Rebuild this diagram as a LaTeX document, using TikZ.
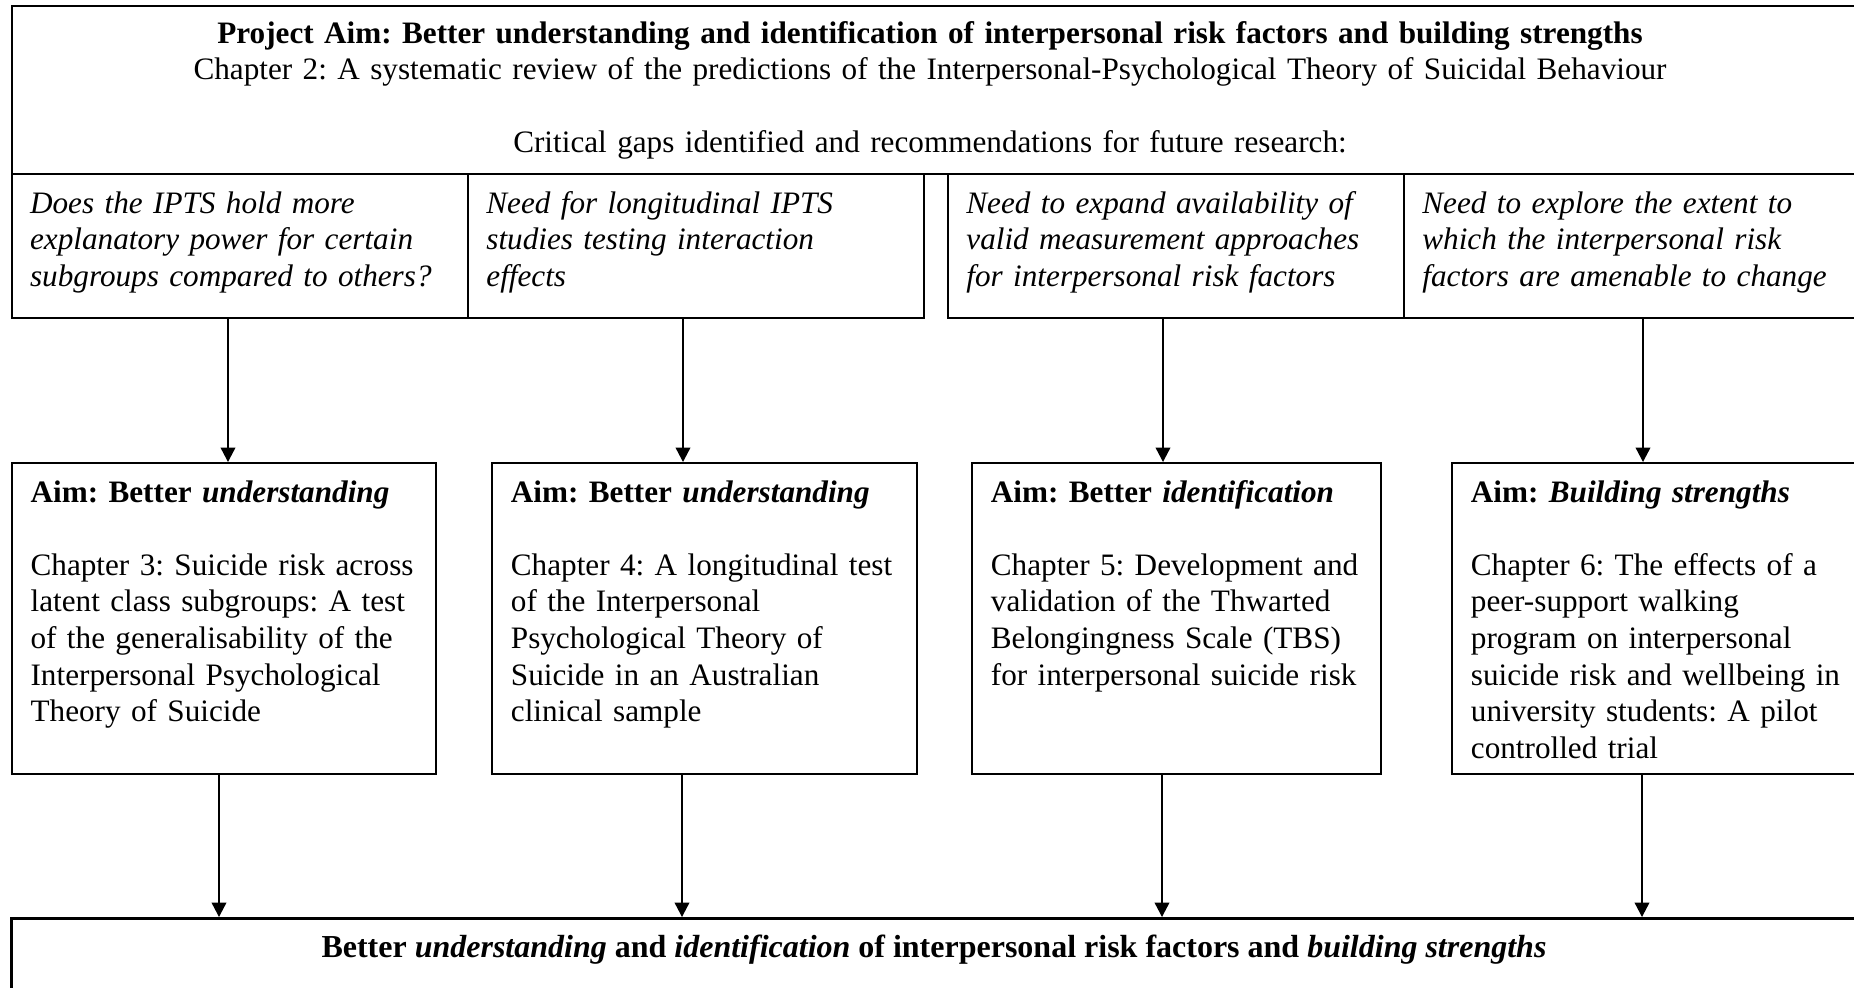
\documentclass[tikz,border=0pt]{standalone}
\usepackage{fontspec}
\setmainfont{Liberation Serif}
\usetikzlibrary{arrows.meta,calc}
\newcommand\diagfont{\fontsize{15.6pt}{18.3pt}\selectfont}
\frenchspacing
\begin{document}
\begin{tikzpicture}[x=0.5pt,y=-0.5pt,
  box/.style={draw,line width=1pt,rectangle,inner sep=0pt,anchor=north west},
  txt/.style={anchor=north west,inner sep=0pt,align=left,text width=236pt,font=\diagfont},
  arr/.style={line width=0.85pt,-{Triangle[length=7.2pt,width=7.3pt]}}]
\useasboundingbox (0,0) rectangle (1854,987);
\clip (0,0) rectangle (1854,987);
% boxes
\node[box,minimum width=940pt,minimum height=84pt] (top) at (10.7,5) {};
\node[box,minimum width=228.15pt,minimum height=72pt] (g1) at (10.7,173) {};
\node[box,minimum width=228pt,minimum height=72pt] (g2) at (467,173) {};
\node[box,minimum width=228pt,minimum height=72pt] (g3) at (947,173) {};
\node[box,minimum width=245pt,minimum height=72pt] (g4) at (1403,173) {};
\node[box,minimum width=212.15pt,minimum height=155.5pt] (c1) at (10.7,462) {};
\node[box,minimum width=212.5pt,minimum height=155.5pt] (c2) at (491,462) {};
\node[box,minimum width=204.5pt,minimum height=155.5pt] (c3) at (971,462) {};
\node[box,minimum width=225pt,minimum height=155.5pt] (c4) at (1451,462) {};
\node[box,line width=1.4pt,minimum width=960pt,minimum height=60pt] (bot) at (10,917) {};
% texts
\node[txt,anchor=north,align=center,text width=920pt] (ttop) at (930,17)
  {\strut\textbf{Project Aim: Better understanding and identification of interpersonal risk factors and building strengths}\\
   Chapter 2: A systematic review of the predictions of the Interpersonal-Psychological Theory of Suicidal Behaviour\\[18.3pt]
   Critical gaps identified and recommendations for future research:};
\node[txt,font=\diagfont\itshape] (tg1) at ([shift={(19,14)}]g1.north west)
  {\strut Does the IPTS hold more\\ explanatory power for certain\\ subgroups compared to others?};
\node[txt,font=\diagfont\itshape] (tg2) at ([shift={(19,14)}]g2.north west)
  {\strut Need for longitudinal IPTS\\ studies testing interaction\\ effects};
\node[txt,font=\diagfont\itshape] (tg3) at ([shift={(19,14)}]g3.north west)
  {\strut Need to expand availability of\\ valid measurement approaches\\ for interpersonal risk factors};
\node[txt,font=\diagfont\itshape] (tg4) at ([shift={(19,14)}]g4.north west)
  {\strut Need to explore the extent to\\ which the interpersonal risk\\ factors are amenable to change};
\node[txt] (tc1) at ([shift={(19.5,14)}]c1.north west)
  {\strut\textbf{Aim: Better \textit{understanding}}\\[18.3pt]
   Chapter 3: Suicide risk across\\ latent class subgroups: A test\\ of the generalisability of the\\ Interpersonal Psychological\\ Theory of Suicide};
\node[txt] (tc2) at ([shift={(19.5,14)}]c2.north west)
  {\strut\textbf{Aim: Better \textit{understanding}}\\[18.3pt]
   Chapter 4: A longitudinal test\\ of the Interpersonal\\ Psychological Theory of\\ Suicide in an Australian\\ clinical sample};
\node[txt] (tc3) at ([shift={(19.5,14)}]c3.north west)
  {\strut\textbf{Aim: Better \textit{identification}}\\[18.3pt]
   Chapter 5: Development and\\ validation of the Thwarted\\ Belongingness Scale (TBS)\\ for interpersonal suicide risk};
\node[txt] (tc4) at ([shift={(19.5,14)}]c4.north west)
  {\strut\textbf{Aim: \textit{Building strengths}}\\[18.3pt]
   Chapter 6: The effects of a\\ peer-support walking\\ program on interpersonal\\ suicide risk and wellbeing in\\ university students: A pilot\\ controlled trial};
\node[inner sep=0pt,anchor=base,font=\fontsize{16pt}{18.3pt}\selectfont] (tbot) at (934,957)
  {\textbf{Better \textit{understanding} and \textit{identification} of interpersonal risk factors and \textit{building strengths}}};
% arrow columns
\coordinate (ua) at (228,0);
\coordinate (ub) at (683,0);
\coordinate (uc) at (1163,0);
\coordinate (ud) at (1643,0);
\coordinate (la) at (219,0);
\coordinate (lb) at (682,0);
\coordinate (lc) at (1162,0);
\coordinate (ld) at (1642,0);
\draw[arr] (g1.south -| ua) -- (c1.north -| ua);
\draw[arr] (g2.south -| ub) -- (c2.north -| ub);
\draw[arr] (g3.south -| uc) -- (c3.north -| uc);
\draw[arr] (g4.south -| ud) -- (c4.north -| ud);
\draw[arr] (c1.south -| la) -- (bot.north -| la);
\draw[arr] (c2.south -| lb) -- (bot.north -| lb);
\draw[arr] (c3.south -| lc) -- (bot.north -| lc);
\draw[arr] (c4.south -| ld) -- (bot.north -| ld);
\end{tikzpicture}
\end{document}
